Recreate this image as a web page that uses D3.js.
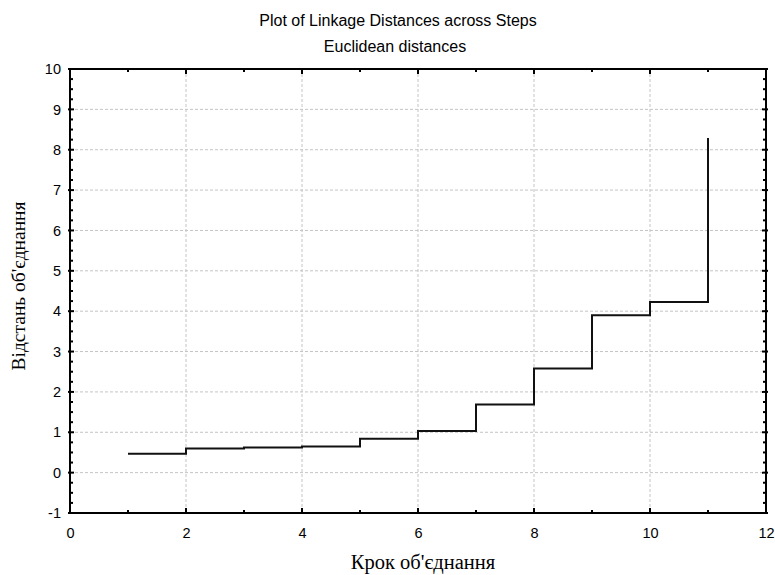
<!DOCTYPE html>
<html>
<head>
<meta charset="utf-8">
<script src="https://cdn.jsdelivr.net/npm/d3@7"></script>
<style>
  body { margin: 0; background: #fff; }
  text { font-family: "Liberation Sans", Arial, sans-serif; }
  .serif { font-family: "Liberation Serif", "Times New Roman", serif; }
</style>
</head>
<body>
<div id="chart"></div>
<script>
// data
var steps = [1, 2, 3, 4, 5, 6, 7, 8, 9, 10, 11];
var distances = [0.47, 0.60, 0.62, 0.65, 0.84, 1.03, 1.69, 2.58, 3.90, 4.23, 8.29];
var xTicks = [0, 2, 4, 6, 8, 10, 12];
var yTicks = [-1, 0, 1, 2, 3, 4, 5, 6, 7, 8, 9, 10];

var svgWidth = 775;
var svgHeight = 575;
var margin = { top: 69, right: 9, bottom: 62, left: 70 };
var width = svgWidth - margin.left - margin.right;
var height = svgHeight - margin.top - margin.bottom;

var svg = d3.select("#chart")
  .append("svg")
  .attr("width", svgWidth)
  .attr("height", svgHeight);

var chartGroup = svg.append("g")
  .attr("transform", `translate(${margin.left}, ${margin.top})`);

var xScale = d3.scaleLinear().domain([0, 12]).range([0, width]);
var yScale = d3.scaleLinear().domain([-1, 10]).range([height, 0]);

// grid lines
chartGroup.append("g")
  .selectAll("line")
  .data(yTicks.filter(d => d > -1 && d < 10))
  .enter()
  .append("line")
  .attr("x1", 0).attr("x2", width)
  .attr("y1", d => yScale(d)).attr("y2", d => yScale(d))
  .attr("stroke", "#c4c4c4")
  .attr("stroke-dasharray", "3,2");

chartGroup.append("g")
  .selectAll("line")
  .data(xTicks.filter(d => d > 0 && d < 12))
  .enter()
  .append("line")
  .attr("y1", 0).attr("y2", height)
  .attr("x1", d => xScale(d)).attr("x2", d => xScale(d))
  .attr("stroke", "#c4c4c4")
  .attr("stroke-dasharray", "3,2");

// step line
var line = d3.line()
  .x((d, i) => xScale(steps[i]))
  .y(d => yScale(d))
  .curve(d3.curveStepAfter);

chartGroup.append("path")
  .datum(distances)
  .attr("d", line)
  .attr("fill", "none")
  .attr("stroke", "#111")
  .attr("stroke-width", 2);

// axis labels (ticks drawn separately); plain hyphen for -1
var bottomAxis = d3.axisBottom(xScale).tickValues(xTicks).tickSize(0).tickPadding(15)
  .tickFormat(d => String(d));
var leftAxis = d3.axisLeft(yScale).tickValues(yTicks).tickSize(0).tickPadding(9)
  .tickFormat(d => String(d));

var gx = chartGroup.append("g")
  .attr("transform", `translate(0, ${height})`)
  .call(bottomAxis);
var gy = chartGroup.append("g").call(leftAxis);
[gx, gy].forEach(function(g) {
  g.select(".domain").remove();
  g.selectAll("text")
    .attr("font-size", "14.5px")
    .attr("font-family", "Liberation Sans, Arial, sans-serif")
    .attr("fill", "#000");
});

// tick marks on all four sides
var minorY = d3.range(-1, 10.001, 0.25);
var minorX = d3.range(0, 12.001, 1);
var ticks = chartGroup.append("g").attr("stroke", "#000");

ticks.selectAll(".ly").data(minorY).enter().append("line")
  .attr("x1", d => Number.isInteger(d) ? -2 : 0)
  .attr("x2", d => Number.isInteger(d) ? 4 : 3)
  .attr("y1", d => yScale(d)).attr("y2", d => yScale(d))
  .attr("stroke-width", 2);

ticks.selectAll(".ry").data(minorY).enter().append("line")
  .attr("x1", d => width - (Number.isInteger(d) ? 4 : 3))
  .attr("x2", d => width + (Number.isInteger(d) ? 2 : 0))
  .attr("y1", d => yScale(d)).attr("y2", d => yScale(d))
  .attr("stroke-width", 2);

ticks.selectAll(".bx").data(minorX).enter().append("line")
  .attr("x1", d => xScale(d)).attr("x2", d => xScale(d))
  .attr("y1", d => height - (d % 2 === 0 ? 5 : 3))
  .attr("y2", height)
  .attr("stroke-width", 2);

ticks.selectAll(".tx").data(minorX).enter().append("line")
  .attr("x1", d => xScale(d)).attr("x2", d => xScale(d))
  .attr("y1", 0)
  .attr("y2", d => d % 2 === 0 ? 5 : 3)
  .attr("stroke-width", 2);

// frame
chartGroup.append("rect")
  .attr("width", width)
  .attr("height", height)
  .attr("fill", "none")
  .attr("stroke", "#000")
  .attr("stroke-width", 2);

// titles
svg.append("text")
  .attr("x", 398).attr("y", 26)
  .attr("text-anchor", "middle")
  .attr("font-size", "16px")
  .text("Plot of Linkage Distances across Steps");

svg.append("text")
  .attr("x", 395).attr("y", 52)
  .attr("text-anchor", "middle")
  .attr("font-size", "16px")
  .text("Euclidean distances");

svg.append("text")
  .attr("class", "serif")
  .attr("x", margin.left + width / 2 + 5)
  .attr("y", 569)
  .attr("text-anchor", "middle")
  .attr("font-size", "20.5px")
  .text("Крок об'єднання");

svg.append("text")
  .attr("class", "serif")
  .attr("transform", `translate(25, ${margin.top + height / 2 - 5}) rotate(-90)`)
  .attr("text-anchor", "middle")
  .attr("font-size", "19.5px")
  .text("Відстань об'єднання");
</script>
</body>
</html>
